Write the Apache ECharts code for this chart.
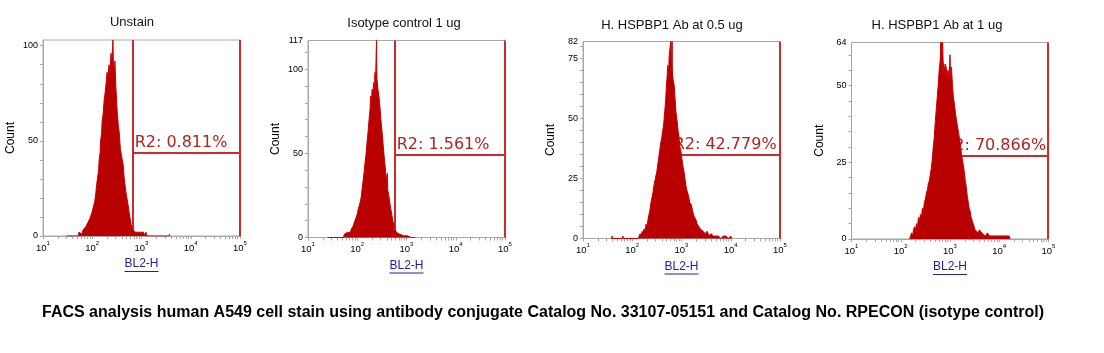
<!DOCTYPE html>
<html>
<head>
<meta charset="utf-8">
<title>FACS analysis human A549</title>
<script src="https://cdn.jsdelivr.net/npm/echarts@6/dist/echarts.min.js"></script>
<style>
  html, body { margin: 0; padding: 0; background: #fff; }
  #chart { width: 1104px; height: 353px; }
</style>
</head>
<body>
<div id="chart"></div>
<script>
// --- data ---
const panelTitles = ['Unstain', 'Isotype control 1 ug', 'H. HSPBP1 Ab at 0.5 ug', 'H. HSPBP1 Ab at 1 ug'];
const gateLabels = ['R2: 0.811%', 'R2: 1.561%', 'R2: 42.779%', 'R2: 70.866%'];
const gateLeft = [2.82, 2.76, 2.80, 2.82];   // log10(BL2-H)
const gateRight = [4.99, 4.99, 4.99, 4.99];
const gateLevel = [43.7, 49.3, 35, 27.1];
const yMax = [103, 117, 82, 64];
const yLabelValues = [[0, 50, 100], [0, 50, 100, 117], [0, 25, 50, 75, 82], [0, 25, 50, 64]];
const yTickStep = [10, 10, 5, 5];
const xDecades = [1, 2, 3, 4, 5];

// histograms: [log10(BL2-H), count]
const unstain = [[1.48,0],[1.49,1],[1.50,0],[1.72,0],[1.73,2],[1.75,1],[1.77,2],[1.79,1],[1.81,3],[1.83,2],[1.85,3],[1.87,5],[1.89,4],[1.91,7],[1.93,6],[1.95,9],[1.97,8],[1.99,12],[2.01,14],[2.03,13],[2.05,18],[2.07,22],[2.09,27],[2.11,31],[2.13,35],[2.14,40],[2.16,44],[2.17,50],[2.19,54],[2.20,60],[2.22,64],[2.24,71],[2.26,75],[2.28,80],[2.30,86],[2.32,84],[2.34,90],[2.36,86],[2.38,96],[2.40,92],[2.42,103],[2.43,90],[2.45,88],[2.46,92],[2.48,78],[2.50,68],[2.51,64],[2.53,58],[2.55,54],[2.57,46],[2.59,43],[2.61,40],[2.63,37],[2.65,30],[2.67,26],[2.69,22],[2.71,19],[2.73,16],[2.75,12],[2.77,9],[2.79,6],[2.81,4],[2.83,3],[2.85,4],[2.87,2],[2.89,3],[2.92,2],[2.95,1],[2.98,2],[3.01,1],[3.04,2],[3.07,0],[3.09,2],[3.11,0],[3.30,0],[3.31,1],[3.32,0],[3.56,0],[3.57,1],[3.58,0]];
const isotype = [[1.40,0],[1.41,1],[1.42,0],[1.63,0],[1.64,1],[1.66,0],[1.72,0],[1.74,2],[1.76,1],[1.78,2],[1.80,3],[1.82,2],[1.84,4],[1.86,3],[1.88,5],[1.90,4],[1.92,7],[1.94,9],[1.96,8],[1.98,12],[2.00,14],[2.02,17],[2.04,16],[2.06,21],[2.08,24],[2.10,29],[2.12,34],[2.14,39],[2.16,45],[2.18,50],[2.20,57],[2.22,63],[2.24,70],[2.26,76],[2.27,84],[2.29,80],[2.30,88],[2.32,86],[2.33,92],[2.35,85],[2.36,98],[2.37,90],[2.39,117],[2.40,94],[2.42,88],[2.44,84],[2.46,78],[2.48,70],[2.50,64],[2.52,57],[2.54,50],[2.56,44],[2.58,38],[2.60,33],[2.61,38],[2.62,28],[2.64,25],[2.66,21],[2.68,17],[2.70,14],[2.72,10],[2.74,8],[2.76,5],[2.78,4],[2.80,3],[2.83,4],[2.86,2],[2.90,3],[2.94,1],[2.98,2],[3.02,1],[3.06,1],[3.10,0],[3.14,1],[3.18,0]];
const half = [[1.58,0],[1.59,1],[1.60,0],[1.80,0],[1.81,1],[1.82,0],[2.12,0],[2.14,1],[2.16,2],[2.18,1],[2.20,3],[2.22,2],[2.24,4],[2.26,3],[2.28,6],[2.30,5],[2.32,8],[2.34,10],[2.36,12],[2.38,15],[2.40,17],[2.42,19],[2.44,22],[2.46,24],[2.48,26],[2.50,28],[2.52,31],[2.54,34],[2.56,37],[2.58,40],[2.60,42],[2.62,45],[2.64,48],[2.66,53],[2.68,58],[2.69,62],[2.71,68],[2.72,72],[2.74,70],[2.75,76],[2.77,80],[2.78,82],[2.79,74],[2.81,70],[2.83,66],[2.85,64],[2.87,58],[2.89,52],[2.91,49],[2.93,45],[2.95,42],[2.97,38],[2.99,36],[3.01,33],[3.03,30],[3.05,28],[3.07,25],[3.09,22],[3.11,20],[3.14,18],[3.17,15],[3.20,14],[3.23,11],[3.26,9],[3.29,8],[3.32,6],[3.35,5],[3.38,4],[3.41,4],[3.44,3],[3.48,2],[3.52,3],[3.56,1],[3.60,2],[3.65,1],[3.70,1],[3.75,1],[3.80,0],[3.85,1],[3.90,1],[3.95,0],[4.00,1],[4.02,0]];
const oneUg = [[2.18,0],[2.20,1],[2.22,2],[2.24,1],[2.26,3],[2.28,4],[2.30,3],[2.32,5],[2.34,4],[2.36,7],[2.38,6],[2.40,8],[2.42,7],[2.44,10],[2.46,9],[2.48,12],[2.50,13],[2.52,15],[2.54,16],[2.56,18],[2.58,19],[2.60,21],[2.62,23],[2.64,26],[2.66,30],[2.68,33],[2.70,38],[2.72,42],[2.74,46],[2.76,50],[2.78,55],[2.80,58],[2.82,64],[2.83,55],[2.85,64],[2.86,58],[2.88,54],[2.90,57],[2.92,56],[2.94,53],[2.96,55],[2.98,52],[3.00,60],[3.01,53],[3.03,56],[3.05,50],[3.07,46],[3.09,44],[3.11,41],[3.13,39],[3.15,37],[3.17,35],[3.19,33],[3.21,31],[3.23,28],[3.25,26],[3.27,24],[3.29,22],[3.31,19],[3.33,17],[3.35,14],[3.37,12],[3.39,10],[3.41,9],[3.43,7],[3.45,6],[3.47,5],[3.49,4],[3.51,3],[3.54,3],[3.57,2],[3.60,3],[3.64,2],[3.68,2],[3.72,1],[3.76,2],[3.80,1],[3.85,1],[3.90,1],[3.95,1],[4.00,1],[4.05,1],[4.10,1],[4.15,1],[4.20,1],[4.22,0]];
const histograms = [unstain, isotype, half, oneUg];

const caption = 'FACS analysis human A549 cell stain using antibody conjugate Catalog No. 33107-05151 and Catalog No. RPECON (isotype control)';

// --- layout ---
const grids = [
    { left: 43, top: 40, width: 197, height: 196 },
    { left: 308, top: 40.5, width: 197, height: 197 },
    { left: 583, top: 41.5, width: 197, height: 197 },
    { left: 851.5, top: 42.5, width: 197, height: 196.5 }
];
const titlePos = [[132, 22], [404, 23], [672, 25], [937, 25]];

const axisGray = '#a8a8a8';
const histRed = '#b80000';
const gateRed = '#cf2a2a';

// log minor ticks 2..9 inside each decade
const xTicks = [];
for (let d = 1; d < 5; d++) {
    for (let k = 1; k < 10; k++) xTicks.push(d + Math.log10(k));
}
xTicks.push(5);

function yTicks(i) {
    const out = [];
    for (let v = 0; v <= yMax[i]; v += yTickStep[i]) out.push(v);
    return out;
}

const chart = echarts.init(document.getElementById('chart'));

const option = {
    animation: false,
    backgroundColor: '#fff',
    textStyle: { fontFamily: 'Arial, "Liberation Sans", sans-serif' },
    grid: grids.map(g => ({ ...g, show: true, borderColor: axisGray, borderWidth: 1, backgroundColor: 'transparent' })),
    xAxis: grids.map((g, i) => ({
        type: 'value', gridIndex: i, min: 1, max: 5,
        splitLine: { show: false },
        axisLine: { lineStyle: { color: axisGray } },
        axisTick: { customValues: xTicks, length: 3, lineStyle: { color: axisGray } },
        axisLabel: {
            customValues: xDecades, margin: 4,
            formatter: v => '{b|10}{s|' + Math.round(v) + '}',
            rich: {
                b: { fontSize: 9.5, color: '#000', lineHeight: 13, verticalAlign: 'bottom' },
                s: { fontSize: 6, color: '#000', verticalAlign: 'top' }
            }
        },
        name: '{t|BL2-H}\n{u|}',
        nameLocation: 'middle', nameGap: 21,
        nameTextStyle: {
            rich: {
                t: { fontSize: 12, color: '#22229c', lineHeight: 14 },
                u: { width: 34, height: 1, lineHeight: 1, fontSize: 1, backgroundColor: '#22229c' }
            }
        }
    })),
    yAxis: grids.map((g, i) => ({
        type: 'value', gridIndex: i, min: 0, max: yMax[i],
        splitLine: { show: false },
        axisLine: { show: true, lineStyle: { color: axisGray } },
        axisTick: { show: true, customValues: yTicks(i), length: 3, lineStyle: { color: axisGray } },
        axisLabel: { customValues: yLabelValues[i], fontSize: 9, color: '#000', margin: 5 },
        name: 'Count', nameLocation: 'middle', nameRotate: 90, nameGap: 26,
        nameTextStyle: { fontSize: 12, color: '#000' }
    })),
    series: histograms.map((h, i) => ({
        type: 'line', xAxisIndex: i, yAxisIndex: i, z: 3,
        data: h, symbol: 'none', silent: true,
        lineStyle: { width: 1, color: '#c80000' },
        areaStyle: { color: histRed, opacity: 1 },
        markLine: {
            z: 1, silent: true, symbol: 'none', animation: false,
            lineStyle: { color: gateRed, width: 2, type: 'solid' },
            label: { show: false },
            data: [
                { xAxis: gateLeft[i] },
                { xAxis: gateRight[i] },
                [
                    { coord: [gateLeft[i], gateLevel[i]], label: {
                        show: true, position: 'insideStartTop', distance: 2,
                        formatter: gateLabels[i], color: '#b22222', fontSize: 16,
                        fontFamily: 'Verdana, "DejaVu Sans", sans-serif'
                    } },
                    { coord: [gateRight[i], gateLevel[i]] }
                ]
            ]
        }
    })),
    graphic: panelTitles.map((t, i) => ({
        type: 'text', x: titlePos[i][0], y: titlePos[i][1],
        style: { text: t, fontSize: 13, fill: '#111', align: 'center', verticalAlign: 'middle',
                 fontFamily: 'Arial, "Liberation Sans", sans-serif' }
    })).concat([{
        type: 'text', x: 543, y: 313,
        style: { text: caption, fontSize: 16, fontWeight: 'bold', fill: '#000', align: 'center', verticalAlign: 'middle',
                 fontFamily: 'Arial, "Liberation Sans", sans-serif' }
    }])
};

chart.setOption(option);
</script>
</body>
</html>
